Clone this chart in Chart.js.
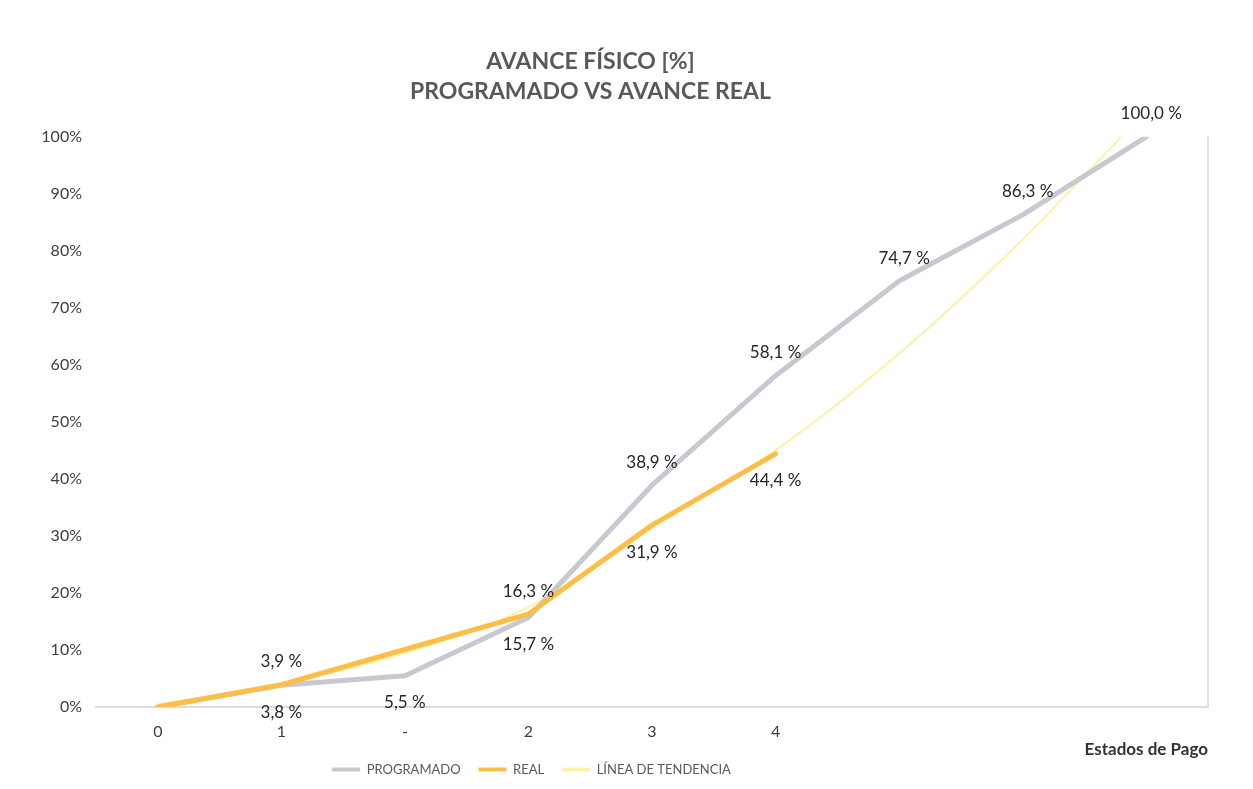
<!DOCTYPE html>
<html>
<head>
<meta charset="utf-8">
<title>Avance físico</title>
<script src="https://cdn.jsdelivr.net/npm/chart.js@4.4.1/dist/chart.umd.min.js"></script>
<style>
  html, body { margin: 0; padding: 0; background: #ffffff; }
  #wrap { width: 1253px; height: 789px; }
</style>
</head>
<body>
<div id="wrap"><canvas id="avanceChart"></canvas></div>
<script>
// Estados de pago (eje X)
const categorias = ['0', '1', '-', '2', '3', '4', '', '', ''];

// Avance programado [%]
const programado = [0, 3.8, 5.5, 15.7, 38.9, 58.1, 74.7, 86.3, 100];

// Avance real [%] (sin dato en "-")
const real = [0, 3.9, null, 16.3, 31.9, 44.4];

// Línea de tendencia
const tendenciaX = [0, 1, 2, 3, 4, 5, 6, 7, 7.8];
const tendenciaY = [0.5, 4, 9.5, 17.5, 31.5, 45, 62, 82, 100];

// Ticks del eje Y
const ticksY = [0, 10, 20, 30, 40, 50, 60, 70, 80, 90, 100];

// Dónde va cada etiqueta de dato
const posProgramado = [null, 'below', 'below', 'below', 'above', 'above', 'above', 'above', 'above'];
const posReal = [null, 'above', null, 'above', 'below', 'below'];

const FONT = 'Lato, "Open Sans", sans-serif';

const etiquetasPlugin = {
  id: 'etiquetas',
  afterDatasetsDraw(chart) {
    const ctx = chart.ctx;
    ctx.save();
    ctx.font = '17px ' + FONT;
    ctx.fillStyle = '#262626';
    ctx.textAlign = 'center';
    ctx.textBaseline = 'middle';
    [[0, posProgramado], [1, posReal]].forEach(([i, pos]) => {
      const ds = chart.data.datasets[i];
      chart.getDatasetMeta(i).data.forEach((pt, j) => {
        const p = pos[j];
        if (!p || ds.data[j].y == null) return;
        const texto = ds.data[j].y.toFixed(1).replace('.', ',') + ' %';
        ctx.fillText(texto, pt.x + (j >= 6 ? 5 : 0), pt.y + (p === 'above' ? -23 : 27));
      });
    });
    ctx.restore();
  }
};

// mueve título y leyenda como en el original
const desplazarPlugin = {
  id: 'desplazar',
  afterLayout(chart) {
    if (chart.titleBlock) { chart.titleBlock.left -= 36; chart.titleBlock.right -= 36; }
    const lg = chart.legend;
    if (lg) {
      lg.left -= 95; lg.right -= 95;
      lg.top -= 24;
      lg.height = 42;
      lg.bottom = lg.top + 42;
    }
  }
};

const ctx = document.getElementById('avanceChart').getContext('2d');
new Chart(ctx, {
  type: 'line',
  data: {
    datasets: [{
      label: 'PROGRAMADO',
      data: programado.map((v, i) => ({ x: i, y: v })),
      borderColor: '#c6c9d0',
      backgroundColor: '#c6c9d0',
      borderWidth: 5,
      pointRadius: 0,
      tension: 0,
      borderCapStyle: 'round',
      borderJoinStyle: 'round',
      order: 1
    }, {
      label: 'REAL',
      data: real.map((v, i) => ({ x: i, y: v })),
      borderColor: '#fbbf47',
      backgroundColor: '#fbbf47',
      borderWidth: 5,
      pointRadius: 0,
      tension: 0,
      spanGaps: true,
      borderCapStyle: 'round',
      borderJoinStyle: 'round',
      order: 0
    }, {
      label: 'LÍNEA DE TENDENCIA',
      data: tendenciaX.map((x, i) => ({ x: x, y: tendenciaY[i] })),
      borderColor: '#fdf1a8',
      backgroundColor: '#fdf1a8',
      borderWidth: 2,
      pointRadius: 0,
      cubicInterpolationMode: 'monotone',
      order: 2
    }]
  },
  options: {
    responsive: true,
    maintainAspectRatio: false,
    animation: false,
    layout: { padding: { left: 0, right: 0, top: 0, bottom: 0 } },
    plugins: {
      title: {
        display: true,
        text: ['AVANCE FÍSICO [%]', 'PROGRAMADO VS AVANCE REAL'],
        color: '#595959',
        font: { family: FONT, size: 23, weight: 'bold', lineHeight: 1.3 },
        padding: { top: 47, bottom: 30 }
      },
      legend: {
        position: 'bottom',
        maxHeight: 20,
        labels: {
          color: '#595959',
          font: { family: FONT, size: 13 },
          boxWidth: 28,
          boxHeight: 4,
          padding: 18,
          sort: (a, b) => a.datasetIndex - b.datasetIndex,
          generateLabels: chart => Chart.defaults.plugins.legend.labels.generateLabels(chart)
            .map(l => Object.assign(l, { lineWidth: 0 }))
        }
      },
      tooltip: { enabled: false }
    },
    scales: {
      x: {
        type: 'linear',
        min: -0.5,
        max: 8.5,
        afterBuildTicks: scale => { scale.ticks = categorias.map((c, i) => ({ value: i })); },
        afterFit: scale => { scale.height = 62; },
        ticks: {
          autoSkip: false,
          color: '#404040',
          font: { family: FONT, size: 16 },
          padding: 15,
          callback: v => categorias[v]
        },
        grid: { display: false, drawTicks: false },
        border: { display: true, color: '#dcdcdc', width: 2 },
        title: {
          display: true,
          text: 'Estados de Pago',
          align: 'end',
          color: '#333333',
          font: { family: FONT, size: 17, weight: 'bold' },
          padding: { top: 0, bottom: 9 }
        }
      },
      y: {
        min: 0,
        max: 100,
        afterBuildTicks: scale => { scale.ticks = ticksY.map(v => ({ value: v })); },
        afterFit: scale => { scale.width = 96; },
        ticks: {
          color: '#404040',
          font: { family: FONT, size: 16 },
          padding: 14,
          callback: v => v + '%'
        },
        grid: { display: false, drawTicks: false },
        border: { display: false }
      },
      y1: {
        position: 'right',
        min: 0,
        max: 100,
        afterFit: scale => { scale.width = 45; },
        ticks: { display: false },
        grid: { display: false, drawTicks: false },
        border: { display: true, color: '#e2e2e2', width: 2 }
      }
    }
  },
  plugins: [etiquetasPlugin, desplazarPlugin]
});
</script>
</body>
</html>
